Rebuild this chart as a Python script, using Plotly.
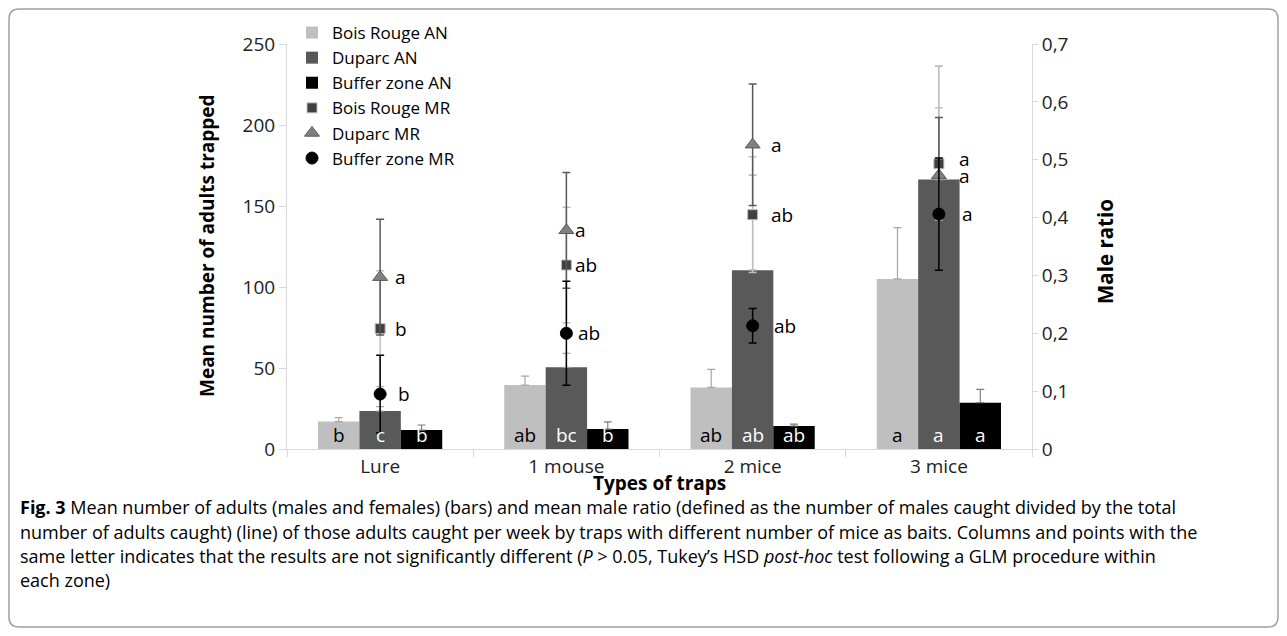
import plotly.graph_objects as go

# ---------------- data ----------------
categories = ["Lure", "1 mouse", "2 mice", "3 mice"]

br_an = [16.9, 39.5, 38.0, 105.0]
br_an_err = [2.5, 5.5, 11.1, 31.7]
du_an = [23.4, 50.4, 110.4, 166.3]
du_an_err = [2.7, 8.6, 58.6, 70.0]
bz_an = [11.7, 12.3, 14.2, 28.6]
bz_an_err = [3.1, 4.5, 1.2, 8.2]

br_mr = [0.208, 0.318, 0.405, 0.493]
br_mr_err = [0.10, 0.10, 0.10, 0.097]
du_mr = [0.297, 0.378, 0.526, 0.473]
du_mr_err = [0.10, 0.10, 0.105, 0.10]
bz_mr = [0.095, 0.200, 0.213, 0.406]
bz_mr_err = [0.067, 0.09, 0.03, 0.097]

br_an_letters = ["b", "ab", "ab", "a"]
du_an_letters = ["c", "bc", "ab", "a"]
bz_an_letters = ["b", "b", "ab", "a"]
br_mr_letters = ["b", "ab", "ab", "a"]
du_mr_letters = ["a", "a", "a", "a"]
bz_mr_letters = ["b", "ab", "ab", "a"]

y1_ticks = [0, 50, 100, 150, 200, 250]
y2_tickvals = [0, 0.1, 0.2, 0.3, 0.4, 0.5, 0.6, 0.7]
y2_ticktext = ["0", "0,1", "0,2", "0,3", "0,4", "0,5", "0,6", "0,7"]

x_title = "Types of traps"
y_title = "Mean number of adults trapped"
y2_title = "Male ratio"

caption_lines = [
    "<b>Fig. 3</b> Mean number of adults (males and females) (bars) and mean male ratio (defined as the number of males caught divided by the total",
    "number of adults caught) (line) of those adults caught per week by traps with different number of mice as baits. Columns and points with the",
    "same letter indicates that the results are not significantly different (<i>P</i> > 0.05, Tukey\u2019s HSD <i>post-hoc</i> test following a GLM procedure within",
    "each zone)",
]

# ---------------- style / geometry ----------------
C_BR = "#bfbfbf"
C_DU = "#595959"
C_BZ = "#000000"
AXC = "#d9d9d9"
FONT = "Open Sans"
OFF = 8                      # default page body margin
W, H = 1287 - 2 * OFF, 636 - 2 * OFF
PL, PR, PT, PB = 287, 1032, 44, 449   # plot area in page pixels
L, R, T, B = PL - OFF, W - (PR - OFF), PT - OFF, H - (PB - OFF)
PW, PH = W - L - R, H - T - B

def px2paper(px, py):
    return (px - OFF - L) / PW, (H - B - (py - OFF)) / PH

fig = go.Figure()

def bar(name, vals, err, color, ecolor):
    fig.add_trace(go.Bar(
        x=categories, y=vals, name=name, marker=dict(color=color, line=dict(width=0)),
        error_y=dict(type="data", array=err, arrayminus=[0] * len(err), symmetric=False,
                     color=ecolor, thickness=1.2, width=4),
        yaxis="y"))

bar("Bois Rouge AN", br_an, br_an_err, C_BR, "#a6a6a6")
bar("Duparc AN", du_an, du_an_err, C_DU, "#a6a6a6")
bar("Buffer zone AN", bz_an, bz_an_err, C_BZ, "#7f7f7f")

def pts(name, vals, err, symbol, fill, line, ecolor, size):
    fig.add_trace(go.Scatter(
        x=categories, y=vals, name=name, mode="markers", yaxis="y2",
        marker=dict(symbol=symbol, color=fill, size=size, line=dict(color=line, width=1)),
        error_y=dict(type="data", array=err, color=ecolor, thickness=1.5, width=4)))

pts("Bois Rouge MR", br_mr, br_mr_err, "square", "#404040", "#bfbfbf", "#bfbfbf", 10)
pts("Duparc MR", du_mr, du_mr_err, "triangle-up", "#808080", "#595959", "#595959", 13)
pts("Buffer zone MR", bz_mr, bz_mr_err, "circle", "#000000", "#000000", "#000000", 12)

ann = []
# bar letters
cat_w = PW / len(categories)
bar_w = cat_w * (1 - 0.333) / 3
for letters, shift, col in [(br_an_letters, -bar_w, "#000000"),
                            (du_an_letters, 0, "#ffffff"),
                            (bz_an_letters, bar_w, "#ffffff")]:
    for c, t in zip(categories, letters):
        ann.append(dict(x=c, y=0, xref="x", yref="y", text=t, showarrow=False,
                        xshift=shift, yanchor="bottom", yshift=-1,
                        font=dict(family=FONT, size=19, color=col)))
# marker letters
label_shift = [13, 7, 16, 18]
for letters, vals, extra, ysh in [(br_mr_letters, br_mr, 0, [0, 0, 0, 5]),
                                  (du_mr_letters, du_mr, 0, [0, 0, 0, -1]),
                                  (bz_mr_letters, bz_mr, 3, [0, 0, 0, 0])]:
    for i, (c, t) in enumerate(zip(categories, letters)):
        ann.append(dict(x=c, y=vals[i], xref="x", yref="y2", text=t, showarrow=False,
                        xanchor="left", xshift=label_shift[i] + extra, yanchor="middle",
                        yshift=ysh[i],
                        font=dict(family=FONT, size=19, color="#000000")))

# axis titles (as annotations)
tx, ty = px2paper(660, 483)
ann.append(dict(x=0.5, y=ty, xref="paper", yref="paper", text=f"<b>{x_title}</b>",
                showarrow=False, xanchor="center", yanchor="middle",
                font=dict(family=FONT, size=19, color="#000000")))
ax_, ay_ = px2paper(207, 246)
ann.append(dict(x=ax_, y=ay_, xref="paper", yref="paper", text=f"<b>{y_title}</b>",
                showarrow=False, xanchor="center", yanchor="middle", textangle=-90,
                font=dict(family=FONT, size=19, color="#000000")))
bx_, by_ = px2paper(1105, 252)
ann.append(dict(x=bx_, y=by_, xref="paper", yref="paper", text=f"<b>{y2_title}</b>",
                showarrow=False, xanchor="center", yanchor="middle", textangle=-90,
                font=dict(family=FONT, size=20.5, color="#000000")))

# caption
cap_y = [507, 531.5, 556, 580]
for line, py in zip(caption_lines, cap_y):
    cx, cy = px2paper(18, py)
    ann.append(dict(x=cx, y=cy, xref="paper", yref="paper",
                    text=line, showarrow=False, xanchor="left", yanchor="middle", align="left",
                    font=dict(family="Open Sans", size=18, color="#000000")))

# rounded frame (page px)
x0, y0, x1, y1, r = 9, 9, 1278, 627, 10
def P(px, py):
    a, b = px2paper(px, py)
    return f"{a:.5f},{b:.5f}"
path = (f"M {P(x0 + r, y0)} L {P(x1 - r, y0)} Q {P(x1, y0)} {P(x1, y0 + r)} "
        f"L {P(x1, y1 - r)} Q {P(x1, y1)} {P(x1 - r, y1)} L {P(x0 + r, y1)} "
        f"Q {P(x0, y1)} {P(x0, y1 - r)} L {P(x0, y0 + r)} Q {P(x0, y0)} {P(x0 + r, y0)} Z")

leg_x = (292 - OFF) / W
leg_y = 1 - (15 - OFF) / H
fig.update_layout(
    width=W, height=H,
    margin=dict(l=L, r=R, t=T, b=B, autoexpand=False),
    paper_bgcolor="white", plot_bgcolor="white",
    barmode="group", bargap=0.333, bargroupgap=0,
    font=dict(family=FONT, size=19, color="#222222"),
    showlegend=True,
    legend=dict(x=leg_x, y=leg_y, xref="container", yref="container",
                xanchor="left", yanchor="top",
                bgcolor="rgba(0,0,0,0)", font=dict(family=FONT, size=17, color="#000000"),
                tracegroupgap=0, itemwidth=30),
    xaxis=dict(showline=True, linecolor=AXC, linewidth=1, ticks="outside", tickson="boundaries",
               ticklen=7, tickcolor=AXC, showgrid=False, zeroline=False,
               tickfont=dict(family=FONT, size=19, color="#222222")),
    yaxis=dict(range=[0, 250], tickvals=y1_ticks, showline=True, linecolor=AXC, linewidth=1,
               ticks="outside", ticklen=7, tickcolor=AXC, showgrid=False, zeroline=False,
               tickfont=dict(family=FONT, size=19, color="#222222")),
    yaxis2=dict(range=[0, 0.7], overlaying="y", side="right", tickvals=y2_tickvals,
                ticktext=y2_ticktext, showline=True, linecolor=AXC, linewidth=1,
                ticks="outside", ticklen=5, tickcolor=AXC, showgrid=False, zeroline=False,
                tickfont=dict(family=FONT, size=19, color="#222222")),
    annotations=ann,
    shapes=[dict(type="path", xref="paper", yref="paper", path=path,
                 line=dict(color="#a0a0a0", width=1.5), layer="below")],
)

fig.write_html("out.html")
